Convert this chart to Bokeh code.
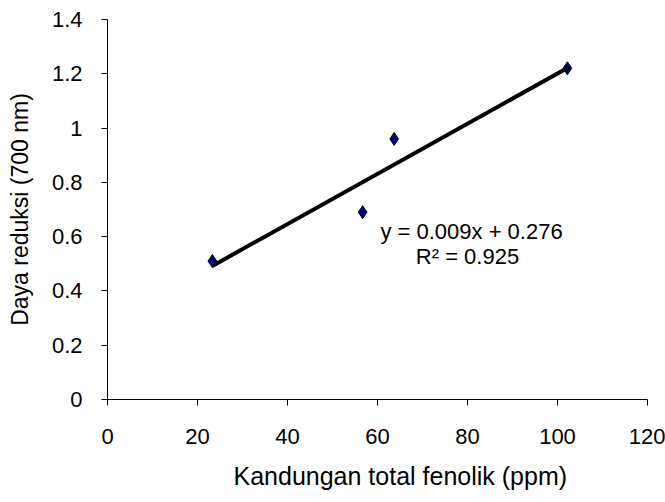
import numpy as np
from bokeh.plotting import figure
from bokeh.models import Range1d, FixedTicker, Title
from bokeh.core.properties import value
from bokeh.embed import file_html
from bokeh.resources import INLINE

# data
fenolik = [23.3, 56.7, 63.7, 102.2]
daya = [0.51, 0.69, 0.96, 1.22]
x_ticks = [0, 20, 40, 60, 80, 100, 120]
y_ticks = [0, 0.2, 0.4, 0.6, 0.8, 1.0, 1.2, 1.4]
eq_text = "y = 0.009x + 0.276"
r2_text = "R\u00b2 = 0.925"
x_title = "Kandungan total fenolik (ppm)"
y_title = "Daya reduksi (700 nm)"

FONT = "Liberation Sans"

p = figure(width=665, height=502, output_backend="svg", toolbar_location=None,
           x_range=Range1d(0, 120), y_range=Range1d(0, 1.4),
           min_border_left=107, min_border_right=18, min_border_top=19, min_border_bottom=102)
p.outline_line_color = None
p.xgrid.visible = False
p.ygrid.visible = False
p.background_fill_color = "white"
p.border_fill_color = "white"

for ax in (p.xaxis[0], p.yaxis[0]):
    ax.axis_line_color = "black"
    ax.axis_line_width = 1
    ax.major_tick_in = 0
    ax.major_tick_out = 6
    ax.minor_tick_line_color = None
    ax.major_tick_line_color = "black"
    ax.major_label_text_font = FONT
    ax.major_label_text_font_size = "22px"
    ax.major_label_text_color = "black"
    ax.axis_label_text_font = FONT
    ax.axis_label_text_font_style = "normal"
    ax.axis_label_text_color = "black"

p.xaxis.ticker = FixedTicker(ticks=x_ticks)
p.yaxis.ticker = FixedTicker(ticks=y_ticks)
p.yaxis.major_label_overrides = {1.0: "1", 0: "0"}
p.xaxis.major_label_standoff = 23
p.yaxis.major_label_standoff = 19
p.yaxis.axis_label = y_title
p.yaxis.axis_label_text_font_size = "23px"
p.yaxis.axis_label_standoff = 16

# x-axis title (offset right of the frame centre, as in the reference)
p.add_layout(Title(text=x_title, align="left", offset=126, standoff=26,
                   vertical_align="bottom", text_line_height=0.5,
                   text_font=FONT, text_font_size="25px", text_font_style="normal",
                   text_color="black"), "below")

p.scatter(fenolik, daya, marker="diamond", size=13, fill_color="#000080",
          line_color="black", line_width=1)

coef = np.polyfit(fenolik, daya, 1)
tx = [min(fenolik), max(fenolik)]
ty = [coef[0] * v + coef[1] for v in tx]
p.line(tx, ty, line_color="black", line_width=4)

p.text([80.9], [0.62], text=[eq_text], text_align="center", text_baseline="middle",
       text_font=value(FONT), text_font_size="22px", text_color="black")
p.text([80.0], [0.528], text=[r2_text], text_align="center", text_baseline="middle",
       text_font=value(FONT), text_font_size="22px", text_color="black")

open("out.html", "w").write(file_html(p, INLINE))
